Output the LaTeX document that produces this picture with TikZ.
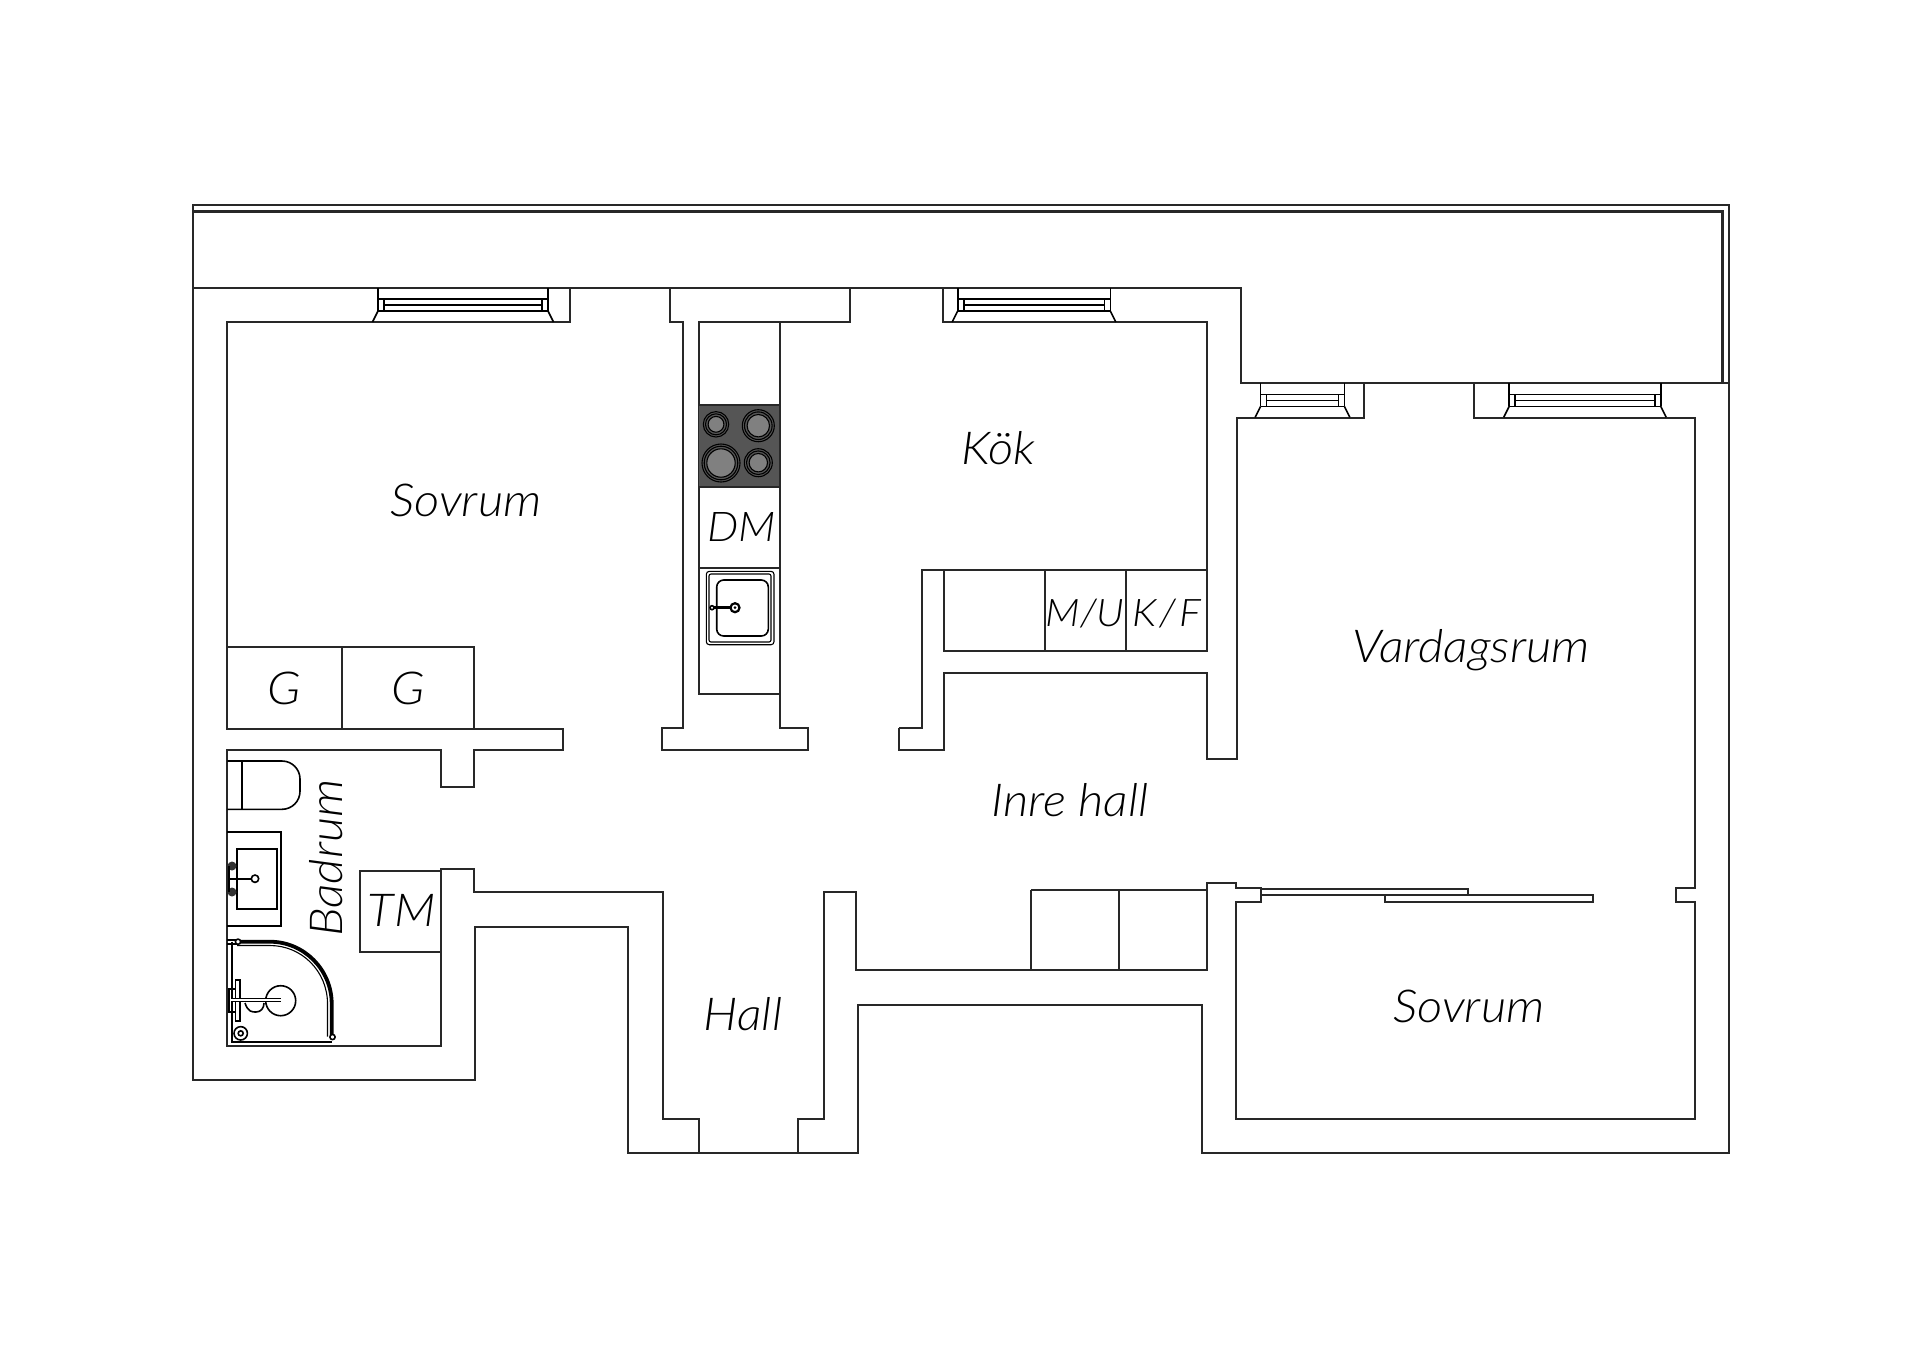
\documentclass[tikz,border=0pt]{standalone}
\usepackage{fontspec}
\newfontfamily\roomfont{Lato Light Italic}[FakeStretch=1.08]
\definecolor{hobgrey}{RGB}{85,85,85}
\definecolor{plategrey}{RGB}{128,128,128}
\definecolor{wallline}{RGB}{40,40,40}
\tikzset{
x=0.5pt, y=-0.5pt, % one unit is one pixel of the plan
wall/.style={draw=wallline, line width=1pt, line join=miter},
heavy/.style={draw=wallline, line width=1.4pt},
fitting/.style={draw=black, line width=0.8pt},
finefitting/.style={draw=black, line width=0.55pt},
room/.style={inner sep=0pt, font=\roomfont\fontsize{22.7}{24}\selectfont},
roomsmall/.style={inner sep=0pt, font=\roomfont\fontsize{19}{21}\selectfont},
}
\newcommand{\windowunit}[3]{
  \draw[fitting] (#1,#3) -- (#1,#3+23) (#2,#3) -- (#2,#3+23);
  \draw[fitting] (#1,#3+11) -- (#2,#3+11) (#1+6,#3+17) -- (#2-6,#3+17) (#1,#3+23) -- (#2,#3+23);
  \draw[fitting] (#1+6,#3+11) -- (#1+6,#3+23) (#2-6,#3+11) -- (#2-6,#3+23);
  \draw[fitting] (#1,#3+23) -- (#1-5.5,#3+34) (#2,#3+23) -- (#2+5.5,#3+34);
}
\newcommand{\hobplate}[3]{
  \draw[finefitting, fill=hobgrey] (#1,#2) circle[radius=#3];
  \draw[finefitting] (#1,#2) circle[radius=#3-2.2];
  \draw[finefitting, fill=plategrey] (#1,#2) circle[radius=#3-4.8];
}
\begin{document}
\begin{tikzpicture}
      \useasboundingbox (0,0) rectangle (1920,1357);

      % outer line and balcony
      \draw[wall] (193,1080) -- (193,205.3) -- (1729,205.3) -- (1729,1153.3) -- (1202.3,1153.3) -- (1202.3,1005)
        -- (858.4,1005) -- (858.4,1153.3) -- (628.2,1153.3) -- (628.2,926.7) -- (475,926.7) -- (475,1080) -- cycle;
      \draw[heavy] (193,211.7) -- (1722.7,211.7) -- (1722.7,383.3);
      \draw[wall] (193,288) -- (1241,288) -- (1241,383.3) -- (1729,383.3);

      % bedroom, bathroom and entrance
      \draw[wall] (570,288) -- (570,322) -- (227.3,322) -- (227.3,728.7) -- (562.7,728.7) -- (562.7,750.3)
        -- (474.3,750.3) -- (474.3,787.3) -- (440.7,787.3) -- (440.7,750.3) -- (227.3,750.3) -- (227.3,1046)
        -- (440.7,1046) -- (440.7,869.3) -- (474.3,869.3) -- (474.3,892.3) -- (662.7,892.3) -- (662.7,1119)
        -- (699.3,1119) -- (699.3,1153.3);
      \draw[wall] (360,870.7) rectangle (440.7,951.7);

      % wall between bedroom and kitchen
      \draw[wall] (670,288) -- (670,322) -- (682.7,322) -- (682.7,728.3) -- (662.3,728.3) -- (662.3,750.3)
        -- (807.7,750.3) -- (807.7,728.3) -- (780,728.3) -- (780,694);
      \draw[wall] (699,322) rectangle (780,694);
      \draw[wall] (780,322) -- (850,322) -- (850,288);

      % kitchen
      \draw[wall] (943.3,288) -- (943.3,322) -- (1206.7,322) -- (1206.7,650.7) -- (943.7,650.7) -- (943.7,570);
      \draw[wall] (899,728.3) -- (922,728.3) -- (922,570) -- (1206.7,570);
      \draw[wall] (1045,570) -- (1045,650.7) (1126,570) -- (1126,650.7);
      \draw[wall] (1364.3,383.3) -- (1364.3,418) -- (1236.7,418) -- (1236.7,759.3) -- (1207,759.3) -- (1207,673)
        -- (943.7,673) -- (943.7,750.3) -- (899,750.3) -- (899,728.3);

      % living room, second bedroom, inner hall
      \draw[wall] (1473.8,383.3) -- (1473.8,418) -- (1695,418) -- (1695,888.3) -- (1676.4,888.3) -- (1676.4,901.7)
        -- (1695,901.7) -- (1695,1119) -- (1236.4,1119) -- (1236.4,901.7) -- (1260.7,901.7) -- (1260.7,888.3)
        -- (1236.4,888.3) -- (1236.4,882.7) -- (1207,882.7) -- (1207,970.3) -- (856.3,970.3) -- (856.3,892)
        -- (824.3,892) -- (824.3,1119) -- (797.8,1119) -- (797.8,1153.3);
      \draw[wall] (1031.4,889.7) -- (1207,889.7) (1031.4,889.7) -- (1031.4,970.3) (1119,889.7) -- (1119,970.3);
      \draw[wall] (1260.7,889) rectangle (1468.2,895.3);
      \draw[wall] (1385,895.3) rectangle (1593.2,902.3);

      % wardrobes
      \draw[wall] (227.3,647.3) -- (474,647.3) -- (474,728.7) (342.3,647.3) -- (342.3,728.7);

      % windows
      \windowunit{378}{548}{288}
      \windowunit{957.7}{1110.3}{288}
      \windowunit{1260.6}{1344.3}{383.3}
      \windowunit{1509.2}{1660.7}{383.3}

      % hob
      \fill[hobgrey] (699.3,405) rectangle (779.3,486.7);
      \draw[wall] (699,405) -- (780,405) (699,486.7) -- (780,486.7);
      \hobplate{716}{424.3}{12.7}
      \hobplate{758.3}{425.7}{16}
      \hobplate{721}{463}{19}
      \hobplate{758.3}{462.7}{14}
      \draw[wall] (699,567.5) -- (780,567.5);

      % kitchen sink
      \draw[finefitting, rounded corners=1.5pt] (706.3,571.3) rectangle (774,644.7);
      \draw[finefitting, rounded corners=1pt] (709,574) rectangle (771,642);
      \draw[fitting, rounded corners=3.5pt] (716.7,580) rectangle (768.3,636);
      \draw[line width=1.3pt] (713,607.7) -- (735,607.7);
      \draw[fitting, fill=white] (712,607.7) circle[radius=2];
      \draw[line width=1.1pt, fill=white] (735,607.7) circle[radius=4.5];
      \fill (735,607.7) circle[radius=1.5];

      % toilet
      \draw[fitting] (241.7,761) -- (241.7,809.3);
      \draw[fitting, rounded corners=9pt] (227.3,761) -- (300,761) -- (300,809.3) -- (227.3,809.3);

      % wash basin
      \draw[fitting] (227.3,831.7) -- (281,831.7) -- (281,926) -- (227.3,926);
      \draw[fitting] (236.7,848.7) rectangle (276.7,909);
      \draw[line width=1.2pt] (229,878.7) -- (252,878.7);
      \draw[fitting, fill=white] (255,878.7) circle[radius=3.7];
      \fill[black!80] (232,866) circle[radius=4.5] (232,892) circle[radius=4.5];
      \draw[fitting] (229,866) -- (229,892);

      % shower
      \draw[line width=1.9pt] (237,941.7) -- (270,941.7) .. controls (304,941.7) and (331.7,969.7) .. (331.7,1003.7) -- (331.7,1036.7);
      \draw[finefitting] (237,945.5) -- (270,945.5) .. controls (301.5,945.5) and (327.5,971) .. (327.5,1003.7) -- (327.5,1036.7);
      \draw[line width=1pt] (231.7,941.7) -- (231.7,1041.7) -- (331.7,1041.7);
      \draw[fitting] (227.3,940) -- (237,940) (227.3,944) -- (237,944);
      \draw[fitting, fill=white] (238,941.7) circle[radius=2.6];
      \draw[fitting, fill=white] (332.5,1037) circle[radius=2.6];
      \draw[fitting] (280.7,1000.7) circle[radius=15];
      \draw[fitting] (240.7,1033.3) circle[radius=6.7];
      \draw[fitting] (240.7,1033.3) circle[radius=2.5];
      \draw[fitting] (235.3,980) rectangle (240,1021);
      \draw[fitting] (229,989) rectangle (235.3,1012);
      \draw[fitting, double=white, double distance=0.8pt] (231,1000) -- (281,1000);
      \draw[fitting] (245,1003) .. controls (248,1012) and (252,1012) .. (256,1012) .. controls (261,1012) and (264,1008) .. (264,1003);

      % texts
      \node[room] (sovrum1) at (466,500) {Sovrum};
      \node[room] (kok) at (998,448) {Kök};
      \node[room, font=\roomfont\fontsize{20.5}{22}\selectfont] (dm) at (741.6,527) {DM};
      \node[room] (vardagsrum) at (1471,650) {Vardagsrum};
      \node[room] (innerhall) at (1070,800) {Inre hall};
      \node[room] (hall) at (743,1014) {Hall};
      \node[room] (sovrum2) at (1469,1006.5) {Sovrum};
      \node[room] (tm) at (401.7,910) {TM};
      \node[room, rotate=90] (badrum) at (325.7,858) {Badrum};
      \node[room] (g1) at (284,688) {G};
      \node[room] (g2) at (408,688) {G};
      \node[roomsmall] (mu) at (1085,613.3) {M/U};
      \node[roomsmall] (kf) at (1166.7,613.3) {K{\kern1.5pt}/{\kern1.5pt}F};
    \end{tikzpicture}
\end{document}
